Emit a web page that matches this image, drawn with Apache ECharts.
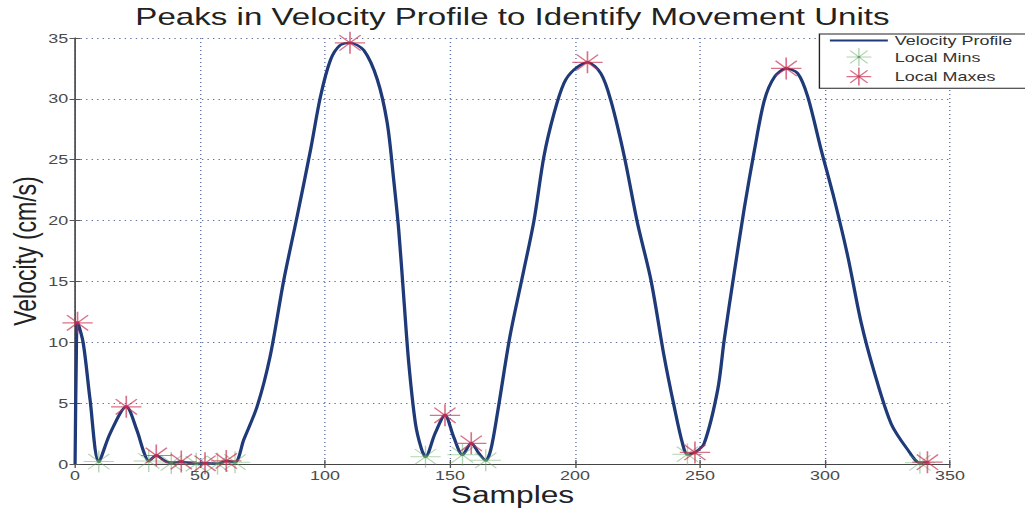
<!DOCTYPE html>
<html>
<head>
<meta charset="utf-8">
<script src="https://cdn.jsdelivr.net/npm/echarts@6/dist/echarts.min.js"></script>
<style>
  html, body { margin: 0; padding: 0; background: #ffffff; overflow: hidden; }
  #wrap { width: 1025px; height: 510px; overflow: hidden; }
  /* the figure is laid out narrower and stretched horizontally */
  #chart { width: 743px; height: 510px; transform: scaleX(1.3795); transform-origin: 0 0; }
</style>
</head>
<body>
<div id="wrap"><div id="chart"></div></div>
<script>
// Velocity profile (sample index, cm/s)
const samples = [0, 0.5, 1, 3.3, 6, 9.5, 14, 20.5, 24.7, 27.5, 29.5, 32.5, 35.5, 38.5, 42.5, 45.5, 48.5, 52, 54.5, 57, 60.5, 64,
  67.5, 72.8, 78, 83.5, 88.8, 94.2, 98.2, 102.2, 106, 110, 115.5, 120.9, 124.9, 127.5, 129.5, 131.5, 133.5, 136.2, 138.5, 140.2,
  144, 148, 151.5, 155, 158.5, 161.5, 164.3, 166.3, 169, 174, 179.3, 183.6, 187.6, 191.6, 195.6, 199.6, 205, 210.3, 214.3, 219.7,
  225, 230.4, 235.7, 239.7, 243, 245, 248, 251.7, 257.1, 259.7, 263.7, 267.8, 271.8, 275.8, 279.8, 284.5, 289.1, 293.1, 298.5,
  303.8, 309.2, 314.5, 319.8, 326.5, 333.2, 338, 341];
const velocity = [0, 8.8, 11.6, 9.9, 5.3, 0.2, 2.5, 4.7, 2.8, 1.0, 0.25, 0.7, 0.3, 0.08, 0.2, 0.1, 0.02, 0.06, 0.05, 0.03, 0.25, 0.15,
  2.0, 4.7, 8.8, 15.1, 20.3, 25.8, 30.2, 33.2, 34.4, 34.6, 34.0, 31.6, 28.0, 23.3, 19.2, 13.7, 8.3, 3.3, 1.3, 0.6,
  2.5, 4.0, 2.2, 0.75, 1.7, 0.9, 0.3, 1.15, 4.2, 10.5, 15.7, 20.0, 25.3, 28.8, 31.3, 32.4, 33.0, 32.1, 29.9, 25.3,
  19.8, 15.1, 8.8, 4.7, 1.7, 0.8, 0.95, 1.7, 6.1, 10.2, 15.7, 21.1, 25.8, 29.9, 31.8, 32.5, 32.1, 30.2, 25.8,
  21.7, 17.0, 11.6, 7.5, 3.3, 1.15, 0.1, 0.15];

// Detected local minima
const minSamples = [9.5, 29.5, 38.5, 48.5, 57, 64, 140.2, 155, 164.3, 245, 338];
const minValues  = [0.2, 0.25, 0.08, 0.02, 0.03, 0.15, 0.6, 0.75, 0.3, 0.8, 0.1];

// Detected local maxima
const maxSamples = [1, 20.5, 32.5, 42.5, 52, 60.5, 110, 148, 158.5, 205, 248, 284.5, 341];
const maxValues  = [11.6, 4.7, 0.7, 0.2, 0.06, 0.25, 34.6, 4.0, 1.7, 33.0, 0.95, 32.5, 0.15];

// Axis ticks
const xTicks = { min: 0, max: 350, step: 50 };
const yTicks = { min: 0, max: 35, step: 5 };

const ASTERISK = 'path://M0,-1L0,1M-1,0L1,0M-0.7,-0.7L0.7,0.7M-0.7,0.7L0.7,-0.7' +
                 'M-0.11,-0.11L0.11,-0.11L0.11,0.11L-0.11,0.11Z';
const LINE_ICON = 'path://M0,0L42,0L42,2L0,2Z';

const pairs = (xs, ys) => xs.map((x, i) => [x, ys[i]]);

const FONT = 'Liberation Sans, Arial, sans-serif';
const LINE_COLOR = '#1e3a78';
const gridLine = { show: true, lineStyle: { color: '#5f70a4', type: [1, 3], width: 1 } };

const minStyle = { color: '#4f8f4f', borderColor: 'rgba(95,165,95,0.6)', borderWidth: 1 };
const maxStyle = { color: '#c81e46', borderColor: 'rgba(200,45,80,0.85)', borderWidth: 1.2 };

const chart = echarts.init(document.getElementById('chart'), null, { renderer: 'svg' });
chart.setOption({
  backgroundColor: '#ffffff',
  animation: false,
  title: {
    text: 'Peaks in Velocity Profile to Identify Movement Units',
    left: 'center',
    top: 0,
    textStyle: { fontFamily: FONT, fontSize: 24, fontWeight: 'normal', color: '#222' }
  },
  grid: { left: 54.4, right: 54.4, top: 38, bottom: 46, containLabel: false, outerBoundsMode: 'none' },
  legend: {
    orient: 'vertical',
    left: 594, top: 34,
    padding: [0, 50, 2, 7.6],
    itemWidth: 42, itemHeight: 18, itemGap: 0.5,
    backgroundColor: '#ffffff',
    borderColor: '#222', borderWidth: 1, borderRadius: 0,
    textStyle: { fontFamily: FONT, fontSize: 13, color: '#333' },
    data: [
      { name: 'Velocity Profile', icon: LINE_ICON, itemStyle: { color: LINE_COLOR, borderWidth: 0 } },
      { name: 'Local Mins', icon: ASTERISK, itemStyle: minStyle },
      { name: 'Local Maxes', icon: ASTERISK, itemStyle: maxStyle }
    ]
  },
  xAxis: [{
    type: 'value', min: xTicks.min, max: xTicks.max, interval: xTicks.step,
    name: 'Samples', nameLocation: 'middle', nameGap: 20, nameMoveOverlap: false,
    nameTextStyle: { fontFamily: FONT, fontSize: 23, color: '#222' },
    axisLine: { show: true, onZero: false, lineStyle: { color: '#7d8595', width: 1 } },
    axisTick: { show: true, inside: true, length: 4, lineStyle: { color: '#555' } },
    axisLabel: { margin: 5, fontFamily: FONT, fontSize: 13, color: '#4a4a4a' },
    splitLine: gridLine
  }, {
    type: 'value', position: 'top', min: xTicks.min, max: xTicks.max, interval: xTicks.step,
    axisLine: { show: true, lineStyle: { color: '#444', width: 1 } },
    axisTick: { show: true, inside: true, length: 4, lineStyle: { color: '#555' } },
    axisLabel: { show: false }, splitLine: { show: false }
  }],
  yAxis: [{
    type: 'value', min: yTicks.min, max: yTicks.max, interval: yTicks.step,
    name: 'Velocity (cm/s)', nameLocation: 'middle', nameGap: 25, nameRotate: 90, nameMoveOverlap: false,
    nameTextStyle: { fontFamily: FONT, fontSize: 23, color: '#222' },
    axisLine: { show: true, onZero: false, lineStyle: { color: '#333', width: 1 } },
    axisTick: { show: true, inside: true, length: 4, lineStyle: { color: '#555' } },
    axisLabel: { margin: 5, fontFamily: FONT, fontSize: 13, color: '#4a4a4a' },
    splitLine: gridLine
  }, {
    type: 'value', position: 'right', min: yTicks.min, max: yTicks.max, interval: yTicks.step,
    axisLine: { show: true, lineStyle: { color: '#555', width: 1 } },
    axisTick: { show: true, inside: true, length: 4, lineStyle: { color: '#555' } },
    axisLabel: { show: false }, splitLine: { show: false }
  }],
  series: [{
    name: 'Velocity Profile',
    type: 'line',
    data: pairs(samples, velocity),
    symbol: 'none',
    smooth: 0.3,
    clip: false,
    lineStyle: { color: LINE_COLOR, width: 2.4 },
    itemStyle: { color: LINE_COLOR },
    z: 2
  }, {
    name: 'Local Mins',
    type: 'scatter',
    data: pairs(minSamples, minValues),
    symbol: ASTERISK,
    symbolSize: 22,
    clip: false,
    itemStyle: minStyle,
    z: 3
  }, {
    name: 'Local Maxes',
    type: 'scatter',
    data: pairs(maxSamples, maxValues),
    symbol: ASTERISK,
    symbolSize: 22,
    clip: false,
    itemStyle: maxStyle,
    z: 4
  }]
});
</script>
</body>
</html>
